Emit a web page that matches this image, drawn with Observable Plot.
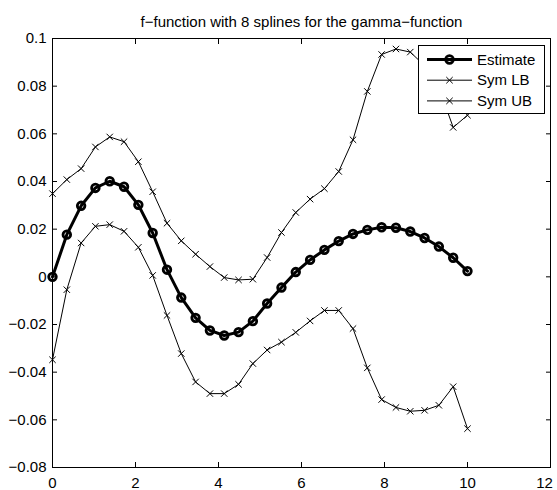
<!DOCTYPE html>
<html><head><meta charset="utf-8">
<script src="https://cdn.jsdelivr.net/npm/d3@7"></script>
<script src="https://cdn.jsdelivr.net/npm/@observablehq/plot@0.6"></script>
<style>
body{margin:0;background:#fff;}
#chart{position:relative;width:557px;height:490px;}
#chart svg{display:block;}
#legend{position:absolute;left:0;top:0;}
</style></head><body><div id="chart"></div>
<script>
const title = "f\u2212function with 8 splines for the gamma\u2212function";
const seriesNames = ["Estimate", "Sym LB", "Sym UB"];
const xs = [0, 0.345, 0.690, 1.034, 1.379, 1.724, 2.069, 2.414, 2.759, 3.103,
  3.448, 3.793, 4.138, 4.483, 4.828, 5.172, 5.517, 5.862, 6.207, 6.552,
  6.897, 7.241, 7.586, 7.931, 8.276, 8.621, 8.966, 9.310, 9.655, 10];
const estimate = [0, 0.0177, 0.0298, 0.0373, 0.0401, 0.0378, 0.0302, 0.0184, 0.0030, -0.0087,
  -0.0172, -0.0225, -0.0246, -0.0232, -0.0186, -0.0112, -0.0045, 0.0020, 0.0071, 0.0113,
  0.0150, 0.0180, 0.0197, 0.0208, 0.0206, 0.0190, 0.0163, 0.0127, 0.0080, 0.0024];
const symLB = [-0.0348, -0.0054, 0.0142, 0.0212, 0.0219, 0.0191, 0.0124, 0.0006, -0.0162, -0.0322,
  -0.0441, -0.0490, -0.0490, -0.0451, -0.0364, -0.0307, -0.0274, -0.0233, -0.0185, -0.0141,
  -0.0141, -0.0217, -0.0382, -0.0515, -0.0548, -0.0564, -0.0560, -0.0539, -0.0461, -0.0637];
const symUB = [0.0349, 0.0408, 0.0454, 0.0545, 0.0587, 0.0567, 0.0483, 0.0357, 0.0225, 0.0151,
  0.0095, 0.0043, -0.0003, -0.0013, -0.0010, 0.0081, 0.0186, 0.0270, 0.0326, 0.0370,
  0.0442, 0.0575, 0.0778, 0.0933, 0.0956, 0.0943, 0.0886, 0.0795, 0.0627, 0.0678];
const xTicks = [0, 2, 4, 6, 8, 10, 12];
const yTicks = [-0.08, -0.06, -0.04, -0.02, 0, 0.02, 0.04, 0.06, 0.08, 0.1];

const rows = vals => xs.map((x, i) => ({x, y: vals[i]}));
const est = rows(estimate), lb = rows(symLB), ub = rows(symUB);
const fmt = d => d === 0 ? "0" : (d < 0 ? "\u2212" : "") + String(+Math.abs(d).toFixed(4));
const blank = () => "";
const font = "'Liberation Sans', Arial, Helvetica, sans-serif";
const lastX = xTicks[xTicks.length - 1];

const plot = Plot.plot({
  width: 557, height: 490,
  marginLeft: 52, marginRight: 7, marginTop: 38, marginBottom: 23,
  style: {fontFamily: font, fontSize: "15px", color: "black", background: "white", overflow: "visible"},
  x: {domain: [0, 12]},
  y: {domain: [-0.08, 0.1]},
  marks: [
    Plot.axisX({ticks: xTicks, tickSize: -5, tickFormat: blank, label: null}),
    Plot.axisX({ticks: xTicks.slice(0, -1), tickSize: 0, tickPadding: 10, tickFormat: fmt, label: null}),
    Plot.axisX({ticks: [lastX], tickSize: 0, tickPadding: 10, tickFormat: fmt, label: null, dx: -6}),
    Plot.axisX({anchor: "top", ticks: xTicks, tickSize: -5, tickFormat: blank, label: null}),
    Plot.axisY({ticks: yTicks, tickSize: -5, tickPadding: 11, tickFormat: fmt, label: null}),
    Plot.axisY({anchor: "right", ticks: yTicks, tickSize: -5, tickFormat: blank, label: null}),
    Plot.line(lb, {x: "x", y: "y", stroke: "black", strokeWidth: 1}),
    Plot.dot(lb, {x: "x", y: "y", symbol: "times", r: 3, stroke: "black", strokeWidth: 1}),
    Plot.line(ub, {x: "x", y: "y", stroke: "black", strokeWidth: 1}),
    Plot.dot(ub, {x: "x", y: "y", symbol: "times", r: 3, stroke: "black", strokeWidth: 1}),
    Plot.line(est, {x: "x", y: "y", stroke: "black", strokeWidth: 3}),
    Plot.dot(est, {x: "x", y: "y", symbol: "circle", r: 3.8, stroke: "black", strokeWidth: 2.8, fill: "none"}),
    Plot.frame({stroke: "black", strokeWidth: 1}),
    Plot.text([title], {frameAnchor: "top", lineAnchor: "bottom", dy: -12, fontSize: 15, fill: "black"})
  ]
});
const chart = document.getElementById("chart");
chart.appendChild(plot);

// legend overlay
const lg = d3.select(chart).append("svg").attr("id", "legend")
  .attr("width", 557).attr("height", 490)
  .style("font-family", font).style("font-size", "15px");
const box = {x: 418, y: 45, w: 126, h: 68};
lg.append("rect").attr("x", box.x + 0.5).attr("y", box.y + 0.5).attr("width", box.w).attr("height", box.h)
  .attr("fill", "white").attr("stroke", "black").attr("stroke-width", 1);
const sym = d3.symbol(d3.symbolTimes, Math.PI * 9);
seriesNames.forEach((name, i) => {
  const cy = box.y + 14.5 + i * 20.7;
  const thick = i === 0;
  lg.append("line").attr("x1", 427).attr("x2", 472).attr("y1", cy).attr("y2", cy)
    .attr("stroke", "black").attr("stroke-width", thick ? 3 : 1);
  if (thick) {
    lg.append("circle").attr("cx", 449.5).attr("cy", cy).attr("r", 3.8)
      .attr("fill", "none").attr("stroke", "black").attr("stroke-width", 2.8);
  } else {
    lg.append("path").attr("d", sym()).attr("transform", `translate(449.5,${cy})`)
      .attr("fill", "none").attr("stroke", "black").attr("stroke-width", 1);
  }
  lg.append("text").attr("x", 477).attr("y", cy).attr("dy", "0.35em").attr("fill", "black").text(name);
});
</script>
</body></html>
